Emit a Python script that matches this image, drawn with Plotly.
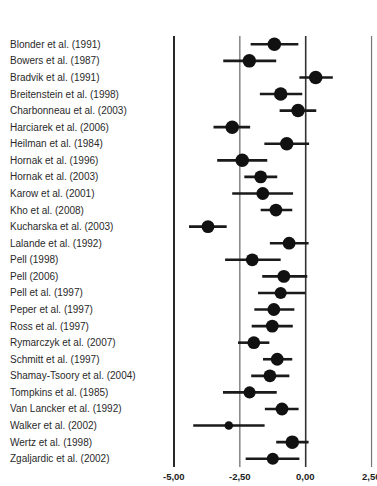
import plotly.graph_objects as go

studies = [
    "Blonder et al. (1991)", "Bowers et al. (1987)", "Bradvik et al. (1991)",
    "Breitenstein et al. (1998)", "Charbonneau et al. (2003)", "Harciarek et al. (2006)",
    "Heilman et al. (1984)", "Hornak et al. (1996)", "Hornak et al. (2003)",
    "Karow et al. (2001)", "Kho et al. (2008)", "Kucharska et al. (2003)",
    "Lalande et al. (1992)", "Pell (1998)", "Pell (2006)", "Pell et al. (1997)",
    "Peper et al. (1997)", "Ross et al. (1997)", "Rymarczyk et al. (2007)",
    "Schmitt et al. (1997)", "Shamay-Tsoory et al. (2004)", "Tompkins et al. (1985)",
    "Van Lancker et al. (1992)", "Walker et al. (2002)", "Wertz et al. (1998)",
    "Zgaljardic et al. (2002)",
]
effect = [-1.19, -2.14, 0.38, -0.95, -0.29, -2.79, -0.72, -2.41, -1.71,
          -1.63, -1.13, -3.71, -0.63, -2.03, -0.83, -0.95, -1.21, -1.27,
          -1.97, -1.08, -1.36, -2.13, -0.90, -2.92, -0.51, -1.25]
ci_low = [-2.09, -3.13, -0.24, -1.74, -0.99, -3.50, -1.57, -3.36, -2.33,
          -2.79, -1.71, -4.43, -1.36, -3.06, -1.65, -1.81, -1.95, -2.05,
          -2.57, -1.62, -2.07, -3.14, -1.55, -4.27, -1.12, -2.28]
ci_high = [-0.28, -1.12, 1.03, -0.13, 0.40, -2.11, 0.13, -1.46, -1.08,
           -0.48, -0.51, -3.00, 0.11, -0.95, 0.06, -0.02, -0.43, -0.49,
           -1.38, -0.51, -0.62, -1.10, -0.27, -1.56, 0.11, -0.24]
weights = [1.0, 1.0, 1.0, 1.0, 1.0, 1.0, 1.0, 1.0, 0.9,
           0.9, 0.9, 0.9, 0.9, 0.9, 0.9, 0.8, 0.9, 0.9,
           0.9, 0.9, 0.9, 0.8, 0.9, 0.4, 1.0, 0.8]
tick_vals = [-5.0, -2.5, 0.0, 2.5]
tick_text = ["-5,00", "-2,50", "0,00", "2,50"]

ys = list(range(len(studies)))
sizes = [13.5 * (w ** 0.5) for w in weights]
n = len(studies)

fig = go.Figure()

line_styles = {-5.0: ("#111111", 1.8), -2.5: ("#666666", 1.2), 0.0: ("#333333", 1.6), 2.5: ("#777777", 1.2)}
for v in tick_vals:
    c, w = line_styles[v]
    fig.add_shape(type="line", xref="x", yref="paper", x0=v, x1=v, y0=0, y1=1,
                  line=dict(color=c, width=w), layer="below")

fig.add_trace(go.Scatter(
    x=effect, y=ys, mode="markers", opacity=1,
    marker=dict(color="#111111", size=sizes, opacity=1, line=dict(width=0, color="#111111")),
    error_x=dict(type="data", symmetric=False,
                 array=[h - e for h, e in zip(ci_high, effect)],
                 arrayminus=[e - l for e, l in zip(effect, ci_low)],
                 color="#1a1a1a", thickness=2.6, width=0),
    showlegend=False, hoverinfo="skip",
))

for i, s in enumerate(studies):
    fig.add_annotation(text=s, x=0, xref="paper", xshift=-162, xanchor="left",
                       y=i, yref="y", showarrow=False,
                       font=dict(family="Liberation Sans, Arial", size=10, color="#2a2a2a"))

for v, t in zip(tick_vals, tick_text):
    fig.add_annotation(text="<b>" + t + "</b>", x=v, xref="x", y=-0.023, yref="paper",
                       yanchor="middle", showarrow=False,
                       font=dict(family="Arial", size=9.5, color="#222222"))

fig.update_layout(
    width=377, height=486,
    margin=dict(l=170, r=0, t=36, b=19),
    plot_bgcolor="white", paper_bgcolor="white",
    xaxis=dict(range=[-5.152, 2.707], showticklabels=False,
               showgrid=False, zeroline=False, showline=False, ticks="",
               fixedrange=True),
    yaxis=dict(range=[n - 0.5, -0.5], showticklabels=False,
               showgrid=False, zeroline=False, showline=False, ticks="", fixedrange=True),
)

fig.write_html("out.html", config={"displayModeBar": False})
